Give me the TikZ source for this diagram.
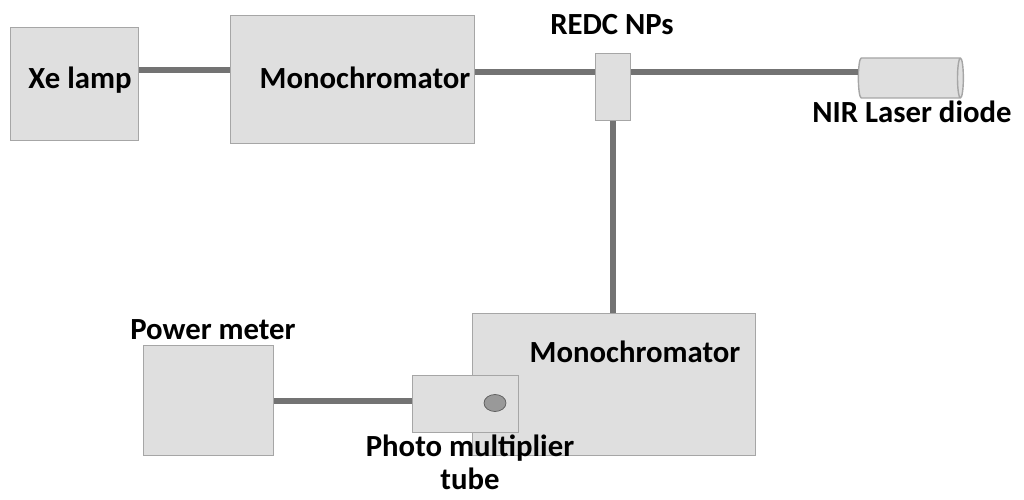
\documentclass[tikz,border=0pt]{standalone}
\usepackage{fontspec}
\setmainfont{Carlito}
\usetikzlibrary{shapes.geometric}
\begin{document}
\begin{tikzpicture}[x=0.02cm,y=-0.02cm]

\tikzset{%
every box/.style={
rectangle,
draw=gray!70,
fill=gray!25,
line width=0.8pt,
anchor=north west
},
beam/.style={
draw=gray!90!black,
line width=3.2pt
},
label/.style={
font=\fontsize{17.5}{19}\selectfont\bfseries,
align=center
},
}

\useasboundingbox (0,0) rectangle (1024,500);

% Boxes
\node [every box, minimum width=128*0.02cm, minimum height=113*0.02cm] (lamp) at (10,27) {};
\node [every box, minimum width=244*0.02cm, minimum height=128*0.02cm] (mono-1) at (230,15) {};
\node [every box, minimum width=35*0.02cm, minimum height=67*0.02cm] (sample) at (595,53) {};
\node [every box, minimum width=283*0.02cm, minimum height=142*0.02cm] (mono-2) at (472,313) {};
\node [every box, minimum width=130*0.02cm, minimum height=110*0.02cm] (meter) at (143,345) {};
\node [every box, minimum width=106*0.02cm, minimum height=57*0.02cm] (pmt) at (412,375) {};
\node [ellipse, draw=gray!70!black, fill=gray!80, minimum width=22*0.02cm, minimum height=17*0.02cm] (window) at (495,403) {};

% Laser diode
\node [cylinder, shape border rotate=0, draw=gray!70, fill=gray!25, line width=0.8pt,
aspect=0.5, minimum width=40*0.02cm, minimum height=105*0.02cm] (laser) at (908,78) {};

% Beams
\draw [beam] (lamp.east |- 0,70) -- (mono-1.west |- 0,70);
\draw [beam] (mono-1.east |- 0,72) -- (sample.west |- 0,72);
\draw [beam] (sample.east |- 0,72) -- (laser.west |- 0,72);
\draw [beam] (sample.south) -- (mono-2.north -| sample.south);
\draw [beam] (meter.east |- 0,401) -- (pmt.west |- 0,401);

% Labels
\node [label] (lamp-l) at (80,80) {Xe lamp};
\node [label] (mono-1-l) at (365,78) {Monochromator};
\node [label] (sample-l) at (612,25) {REDC NPs};
\node [label] (laser-l) at (912,112) {NIR Laser diode};
\node [label] (mono-2-l) at (635,352) {Monochromator};
\node [label] (meter-l) at (213,330) {Power meter};
\node [label] (pmt-l) at (470,462) {Photo multiplier\\tube};

\end{tikzpicture}
\end{document}
